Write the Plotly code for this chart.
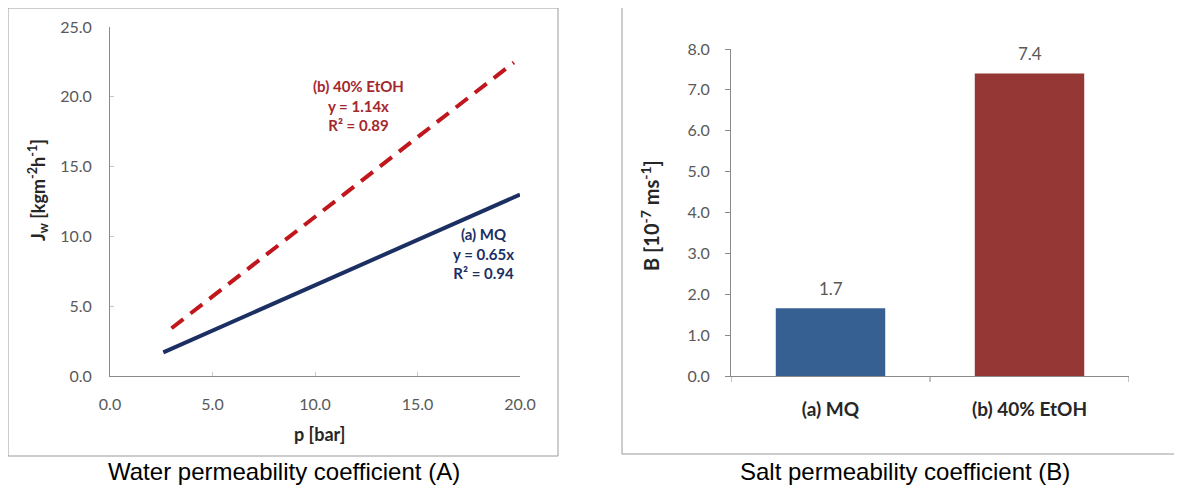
import plotly.graph_objects as go

# page body has an 8px margin, so the figure is drawn 8px in from the top-left
OFF = 8
W, H = 1182 - OFF, 486 - OFF

# ---- data ----
p_mq = [2.6, 20.0]
jw_mq = [1.69, 13.0]
p_etoh = [3.0, 19.7]
jw_etoh = [3.42, 22.46]

x_ticks_left = [0, 5, 10, 15, 20]
y_ticks_left = [0, 5, 10, 15, 20, 25]

bar_categories = ["(a) MQ", "(b) 40% EtOH"]
bar_values = [1.66, 7.4]
bar_labels = ["1.7", "7.4"]
y_ticks_right = [0, 1, 2, 3, 4, 5, 6, 7, 8]

ann_etoh = "(b) 40% EtOH<br>y = 1.14x<br>R² = 0.89"
ann_mq = "(a) MQ<br>y = 0.65x<br>R² = 0.94"
title_x_left = "p [bar]"
title_y_left = "J<sub>w</sub> [kgm<sup>-2</sup>h<sup>-1</sup>]"
title_y_right = "B [10<sup>-7</sup> ms<sup>-1</sup>]"
caption_left = "Water permeability coefficient (A)"
caption_right = "Salt permeability coefficient (B)"

# ---- styles ----
NAVY = "#1b2f63"
RED = "#c0161c"
RED_TXT = "#a3282e"
BAR_BLUE = "#376092"
BAR_RED = "#953735"
TICK_COL = "#595959"
TITLE_COL = "#262626"
AX_COL = "#8a8a8a"
FONT = "Lato, Open Sans, sans-serif"
CAP_FONT = "Liberation Sans, Arial, sans-serif"


def px_x(px):
    return (px - OFF) / W


def px_y(py):
    return 1 - (py - OFF) / H


fig = go.Figure()

fig.add_trace(go.Scatter(x=p_mq, y=jw_mq, mode="lines",
                         line=dict(color=NAVY, width=4),
                         xaxis="x", yaxis="y", showlegend=False, hoverinfo="skip"))
fig.add_trace(go.Scatter(x=p_etoh, y=jw_etoh, mode="lines",
                         line=dict(color=RED, width=4, dash="15px,9px"),
                         xaxis="x", yaxis="y", showlegend=False, hoverinfo="skip"))

fig.add_trace(go.Bar(x=[0, 1], y=bar_values,
                     marker=dict(color=[BAR_BLUE, BAR_RED], line=dict(width=0)),
                     width=0.55,
                     xaxis="x2", yaxis="y2", showlegend=False, hoverinfo="skip"))

# bar value labels
for i, (v, lab) in enumerate(zip(bar_values, bar_labels)):
    fig.add_annotation(x=i, y=v, xref="x2", yref="y2", text=lab,
                       showarrow=False, xanchor="center", yanchor="middle", yshift=20,
                       font=dict(family=FONT, size=17, color=TICK_COL))

tickfont = dict(family=FONT, size=16, color=TICK_COL)

fig.update_layout(
    width=W, height=H,
    margin=dict(l=0, r=0, t=0, b=0, autoexpand=False),
    paper_bgcolor="white", plot_bgcolor="white",
    font=dict(family=FONT),
    xaxis=dict(domain=[px_x(110), px_x(520)], range=[0, 20],
               tickvals=x_ticks_left, tickformat=".1f",
               showline=True, linecolor=AX_COL, linewidth=1,
               ticks="inside", ticklen=4, tickcolor="#c8c8c8",
               showgrid=False, zeroline=False, tickfont=tickfont,
               ticklabelstandoff=14, automargin=False, anchor="y"),
    yaxis=dict(domain=[px_y(376), px_y(27)], range=[0, 25],
               tickvals=y_ticks_left, tickformat=".1f",
               showline=True, linecolor=AX_COL, linewidth=1,
               ticks="inside", ticklen=4, tickcolor="#c8c8c8",
               showgrid=False, zeroline=False, tickfont=tickfont,
               ticklabelstandoff=14, automargin=False, anchor="x"),
    xaxis2=dict(domain=[px_x(731), px_x(1129)], range=[-0.5, 1.5],
                tickvals=[0, 1],
                ticktext=["<b>" + c + "</b>" for c in bar_categories],
                showline=True, linecolor=AX_COL, linewidth=1,
                ticks="", showgrid=False, zeroline=False,
                tickfont=dict(family=FONT, size=19, color=TITLE_COL),
                ticklabelstandoff=16, automargin=False, anchor="y2"),
    yaxis2=dict(domain=[px_y(376), px_y(49)], range=[0, 8],
                tickvals=y_ticks_right, tickformat=".1f",
                showline=True, linecolor=AX_COL, linewidth=1,
                ticks="outside", ticklen=5, tickcolor=AX_COL,
                showgrid=False, zeroline=False, tickfont=tickfont,
                ticklabelstandoff=12, automargin=False, anchor="x2"),
)

# category boundary ticks (outside, pointing down) on bar chart x axis
for xv in [-0.5, 0.5, 1.5]:
    fig.add_shape(type="line", xref="x2", yref="paper",
                  x0=xv, x1=xv, y0=px_y(376), y1=px_y(382),
                  line=dict(color=AX_COL, width=1))

# boxes around panels
fig.add_shape(type="rect", xref="paper", yref="paper",
              x0=px_x(8), x1=px_x(558), y0=px_y(456), y1=px_y(8),
              line=dict(color="#9a9a9a", width=1))
fig.add_shape(type="rect", xref="paper", yref="paper",
              x0=px_x(622), x1=px_x(1190), y0=px_y(454), y1=px_y(7),
              line=dict(color="#9a9a9a", width=1))

# axis titles
fig.add_annotation(x=px_x(319), y=px_y(434), xref="paper", yref="paper",
                   xanchor="center", yanchor="middle",
                   text="<b>" + title_x_left + "</b>", showarrow=False,
                   font=dict(family=FONT, size=18, color=TITLE_COL))
fig.add_annotation(x=px_x(38), y=px_y(190), xref="paper", yref="paper",
                   xanchor="center", yanchor="middle", textangle=-90,
                   text="<b>" + title_y_left + "</b>", showarrow=False,
                   font=dict(family=FONT, size=18, color=TITLE_COL))
fig.add_annotation(x=px_x(650), y=px_y(216), xref="paper", yref="paper",
                   xanchor="center", yanchor="middle", textangle=-90,
                   text="<b>" + title_y_right + "</b>", showarrow=False,
                   font=dict(family=FONT, size=20, color=TITLE_COL))

# annotations in left chart
fig.add_annotation(x=12.1, y=19.4, xref="x", yref="y", text="<b>" + ann_etoh + "</b>",
                   showarrow=False, align="center", xanchor="center", yanchor="middle",
                   font=dict(family=FONT, size=15, color=RED_TXT))
fig.add_annotation(x=18.2, y=8.8, xref="x", yref="y", text="<b>" + ann_mq + "</b>",
                   showarrow=False, align="center", xanchor="center", yanchor="middle",
                   font=dict(family=FONT, size=15, color=NAVY))

# captions
fig.add_annotation(x=px_x(284), y=px_y(471), xref="paper", yref="paper",
                   xanchor="center", yanchor="middle",
                   text=caption_left, showarrow=False,
                   font=dict(family=CAP_FONT, size=24, color="black"))
fig.add_annotation(x=px_x(905), y=px_y(471), xref="paper", yref="paper",
                   xanchor="center", yanchor="middle",
                   text=caption_right, showarrow=False,
                   font=dict(family=CAP_FONT, size=24, color="black"))

fig.write_html("out.html")
